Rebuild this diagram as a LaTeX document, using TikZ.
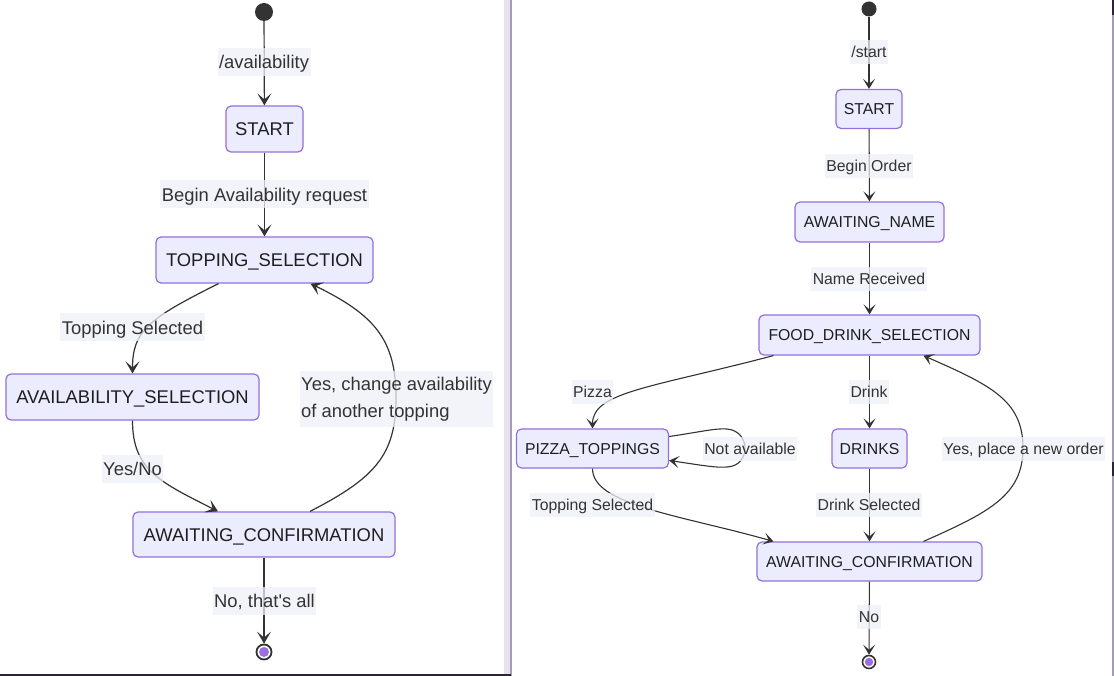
\documentclass[tikz,border=0pt]{standalone}
\usepackage{fontspec}
\setmainfont{Liberation Sans}
\usetikzlibrary{arrows.meta,calc}
\definecolor{nodefill}{HTML}{ECECFF}
\definecolor{nodeborder}{HTML}{9370DB}
\definecolor{edgecol}{HTML}{333333}
\definecolor{lblbg}{HTML}{EFEFF9}
\definecolor{txt}{HTML}{333333}
\definecolor{ntxt}{HTML}{1E1E1E}
\definecolor{endfill}{HTML}{9B6FE0}
\definecolor{divband}{HTML}{E6E2EE}
\definecolor{divline}{HTML}{A49CB0}
\definecolor{darkedge}{HTML}{2E2336}
\begin{document}
\begin{tikzpicture}[x=1pt,y=-1pt,
  lfont/.style={font=\fontsize{18.4}{22}\selectfont, text height=14pt, text depth=0.8pt},
  rfont/.style={font=\fontsize{15.8}{19}\selectfont, text height=12pt, text depth=0.7pt},
  state/.style={draw=nodeborder, fill=nodefill, line width=1.2pt, rounded corners=5pt,
                inner sep=0pt, text=ntxt},
  lstate/.style={state, lfont, minimum height=46pt},
  rstate/.style={state, rfont, minimum height=39pt},
  lbl/.style={fill=lblbg, fill opacity=0.75, text opacity=1, text=txt, inner xsep=1.5pt, inner ysep=0pt},
  llbl/.style={lbl, lfont, minimum height=28pt},
  rlbl/.style={lbl, rfont, minimum height=24pt},
  startst/.style={circle, fill=edgecol, inner sep=0pt},
  endst/.style={circle, draw=edgecol, line width=1.8pt, fill=white, inner sep=0pt},
  ledge/.style={draw=edgecol, line width=1.2pt, -{Stealth[length=12pt,width=14pt,inset=6pt]}},
  redge/.style={draw=edgecol, line width=1.1pt, -{Stealth[length=10pt,width=12pt,inset=5pt]}}
]
\useasboundingbox (0,0) rectangle (1114,676);
\fill[white] (0,0) rectangle (1114,676);

% divider and frame bits
\fill[divband] (504,0) rectangle (510,676);
\fill[divline] (510,0) rectangle (512,676);
\fill[darkedge] (0,674) rectangle (511,676);
\fill[divline] (1111.5,0) rectangle (1114,676);
\fill[darkedge] (1111.5,0) rectangle (1114,15);
\fill[darkedge] (1111.5,462) rectangle (1114,476);

% ---------------- LEFT PANEL ----------------
\node[startst, minimum size=18pt] (lini) at (264,12) {};
\node[lstate, minimum width=77pt]  (lstart) at (264.5,129) {START};
\node[lstate, minimum width=217pt] (lts) at (264.5,260) {TOPPING\_SELECTION};
\node[lstate, minimum width=253pt] (las) at (132.5,397) {AVAILABILITY\_SELECTION};
\node[lstate, minimum width=262pt, minimum height=45pt] (lac) at (264,534.5) {AWAITING\_CONFIRMATION};
\node[endst, minimum size=15pt] (lend) at (264,652) {};
\fill[endfill] (lend.center) circle (5);

\draw[ledge] (lini) -- (lstart);
\draw[ledge] (lstart) -- (lts);
\draw[ledge] ($(lts.south)+(-46,0)$) .. controls (150,318) and (132.5,330) .. (las.north);
\draw[ledge] (las.south) .. controls (132.5,470) and (160,482) .. ($(lac.north)+(-46,0)$);
\draw[ledge] ($(lac.north)+(46,0)$) .. controls (375,478) and (396,455) .. (396,398)
             .. controls (396,340) and (375,315) .. ($(lts.south)+(46,0)$);
\draw[ledge] (lac) -- (lend);

\node[llbl] (l1) at (264,62) {/availability};
\node[llbl] (l2) at (264.5,194.5) {Begin Availability request};
\node[llbl] (l3) at (132.5,327.5) {Topping Selected};
\node[llbl] (l4) at (132.5,469) {Yes/No};
\node[lbl, font=\fontsize{18.4}{27}\selectfont, align=left, minimum height=56pt]
      (l5) at (396.5,399) {Yes, change availability\\of another topping};
\node[llbl] (l6) at (264.5,600.5) {No, that\textquotesingle s all};

% ---------------- RIGHT PANEL ----------------
\node[startst, minimum size=15pt] (rini) at (869,9) {};
\node[rstate, minimum width=66pt]  (rstart) at (869,109) {START};
\node[rstate, minimum width=149pt, minimum height=40pt] (ran) at (869.5,222) {AWAITING\_NAME};
\node[rstate, minimum width=221pt, minimum height=40pt] (rfds) at (869.5,335) {FOOD\_DRINK\_SELECTION};
\node[rstate, minimum width=152pt] (rpt) at (592.5,448.5) {PIZZA\_TOPPINGS};
\node[rstate, minimum width=75pt]  (rdr) at (869.5,448.5) {DRINKS};
\node[rstate, minimum width=225pt] (rac) at (869.5,561.5) {AWAITING\_CONFIRMATION};
\node[endst, minimum size=13pt, line width=1.6pt] (rend) at (869,662) {};
\fill[endfill] (rend.center) circle (4.2);

\draw[redge] (rini) -- (rstart);
\draw[redge] (rstart) -- (ran);
\draw[redge] (ran) -- (rfds);
\draw[redge] ($(rfds.south)+(-96,0)$) .. controls (650,388) and (592.5,392) .. (rpt.north);
\draw[redge] (rfds) -- (rdr);
\draw[redge] ($(rpt.east)+(0,-12)$) .. controls (700,432) and (716,428) .. (727,429)
             .. controls (751,431) and (751,466) .. (727,467)
             .. controls (716,468) and (700,465) .. ($(rpt.east)+(0,12)$);
\draw[redge] (rpt.south) .. controls (592.5,505) and (680,515) .. ($(rac.north)+(-96,0)$);
\draw[redge] (rdr) -- (rac);
\draw[redge] ($(rac.north)+(54,0)$) .. controls (990,512) and (1023,495) .. (1023,448)
             .. controls (1023,400) and (990,385) .. ($(rfds.south)+(54,0)$);
\draw[redge] (rac) -- (rend);

\node[rlbl] (r1) at (869,52) {/start};
\node[rlbl] (r2) at (869,166) {Begin Order};
\node[rlbl] (r3) at (869,279) {Name Received};
\node[rlbl] (r4) at (592.5,391.5) {Pizza};
\node[rlbl] (r5) at (869,391.5) {Drink};
\node[rlbl] (r6) at (750,448.5) {Not available};
\node[rlbl] (r7) at (1023.5,448.5) {Yes, place a new order};
\node[rlbl] (r8) at (592.5,505) {Topping Selected};
\node[rlbl] (r9) at (869,505) {Drink Selected};
\node[rlbl] (r10) at (869,617) {No};
\end{tikzpicture}
\end{document}
